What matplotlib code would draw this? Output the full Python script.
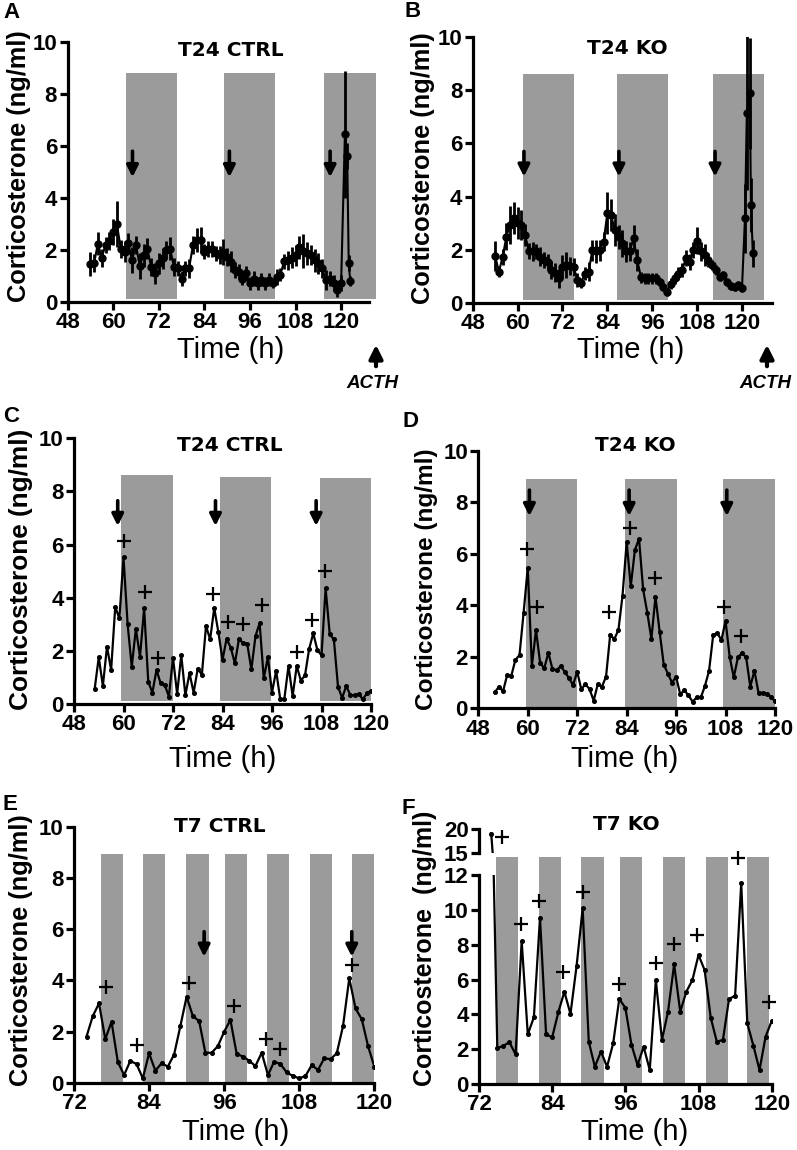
import matplotlib
matplotlib.use("Agg")
import matplotlib.pyplot as plt
from matplotlib.patches import FancyArrowPatch

# ---------------- data ----------------
# Panel A: T24 CTRL (mean +/- error)
a_time = list(range(54, 121)) + [121.0, 121.6, 122.0, 122.4]
a_cort = [1.46, 1.5, 2.25, 1.7, 2.2, 2.35, 2.7, 3.0, 2.05, 1.94,
          2.26, 1.6, 2.2, 1.4, 1.8, 2.05, 1.36, 1.1, 1.49, 1.68,
          2.0, 2.05, 1.36, 1.29, 0.9, 1.29, 1.29, 2.19, 2.38, 2.38,
          1.94, 2.05, 2.05, 1.87, 1.81, 1.94, 1.74, 1.55, 1.23, 1.17,
          0.9, 1.1, 0.72, 0.9, 0.72, 0.85, 0.72, 0.85, 0.72, 0.97,
          1.04, 1.56, 1.6, 1.7, 1.8, 2.1, 1.95, 1.87, 1.81, 1.6,
          1.49, 1.29, 0.85, 0.9, 0.72, 0.45, 0.72,
          6.45, 5.6, 1.5, 0.8]
a_err = [0.45, 0.35, 0.45, 0.35, 0.3, 0.35, 0.5, 0.9, 0.35, 0.4,
         0.4, 0.5, 0.35, 0.5, 0.45, 0.4, 0.35, 0.4, 0.4, 0.4,
         0.35, 0.45, 0.35, 0.3, 0.3, 0.3, 0.35, 0.35, 0.45, 0.5,
         0.3, 0.3, 0.3, 0.3, 0.35, 0.5, 0.35, 0.4, 0.3, 0.3,
         0.25, 0.3, 0.25, 0.3, 0.25, 0.25, 0.25, 0.25, 0.2, 0.3,
         0.25, 0.3, 0.35, 0.4, 0.4, 0.45, 0.65, 0.45, 0.4, 0.45,
         0.4, 0.35, 0.4, 0.3, 0.3, 0.25, 0.3,
         2.45, 0.5, 0.3, 0.2]
a_dark = [(63.4, 76.7), (89.2, 102.6), (115.6, 129.1)]
a_arrows = [65.1, 90.6, 117.1]

# Panel B: T24 KO (mean +/- error)
b_time = list(range(54, 121)) + [120.8, 121.3, 122.1, 122.4, 122.9]
b_cort = [1.76, 1.17, 1.71, 2.49, 2.93, 3.2, 3.0, 2.93, 2.55, 1.96,
          1.93, 1.93, 1.73, 1.61, 1.55, 1.23, 1.13, 0.92, 1.36, 1.42,
          1.39, 1.34, 0.86, 0.74, 1.1, 1.17, 1.98, 1.93, 1.98, 2.3,
          3.37, 3.3, 2.74, 2.49, 2.24, 1.93, 1.93, 2.43, 1.61, 0.95,
          0.92, 0.92, 0.92, 0.92, 0.79, 0.6, 0.41, 0.72, 0.92, 1.1,
          1.23, 1.67, 1.55, 1.98, 2.34, 1.93, 1.8, 1.61, 1.42, 1.23,
          0.98, 1.04, 0.79, 0.63, 0.6, 0.67, 0.54,
          3.18, 7.14, 7.89, 3.68, 1.86]
b_err = [0.55, 0.2, 0.3, 0.5, 0.7, 0.6, 0.6, 0.55, 0.4, 0.3,
         0.35, 0.3, 0.35, 0.3, 0.3, 0.35, 0.35, 0.35, 0.45, 0.5,
         0.35, 0.35, 0.25, 0.2, 0.25, 0.35, 0.4, 0.45, 0.4, 0.35,
         0.8, 0.6, 0.6, 0.45, 0.5, 0.4, 0.35, 0.5, 0.4, 0.2,
         0.2, 0.2, 0.2, 0.2, 0.15, 0.15, 0.15, 0.2, 0.2, 0.25,
         0.25, 0.3, 0.3, 0.3, 0.5, 0.35, 0.4, 0.25, 0.2, 0.2,
         0.15, 0.15, 0.15, 0.15, 0.15, 0.15, 0.15,
         1.3, 2.9, 2.1, 1.0, 0.5]
b_dark = [(61.5, 75.1), (86.7, 100.3), (112.3, 126.0)]
b_arrows = [61.7, 87.1, 112.8]

# Panel C: T24 CTRL individual
c_time = list(range(53, 121))
c_cort = [0.55, 1.76, 0.68, 2.16, 1.28, 3.66, 3.22, 5.52, 3.0, 1.4,
          2.83, 1.78, 3.6, 0.84, 0.43, 1.28, 0.78, 0.72, 0.28, 1.74,
          0.38, 1.84, 0.33, 1.16, 0.43, 1.33, 1.1, 2.94, 2.43, 3.61,
          2.7, 1.66, 2.46, 2.12, 1.53, 2.46, 2.28, 2.26, 1.3, 2.56,
          3.04, 0.97, 1.76, 0.43, 1.25, 0.18, 0.2, 1.43, 0.3, 1.43,
          0.88, 1.08, 2.07, 2.66, 2.03, 1.83, 4.35, 2.62, 2.43, 0.65,
          0.23, 0.68, 0.33, 0.33, 0.38, 0.18, 0.4, 0.5]
c_plus_t = [60.0, 65.3, 68.3, 81.8, 85.3, 88.9, 93.5, 102.0, 105.8, 108.8]
c_plus_v = [6.13, 4.23, 1.72, 4.13, 3.1, 3.01, 3.73, 1.97, 3.16, 5.0]
c_dark = [(59.4, 71.9, 8.62), (83.4, 95.7, 8.56), (107.6, 119.9, 8.49)]
c_arrows = [58.6, 82.3, 106.7]

# Panel D: T24 KO individual
d_time = list(range(52, 121))
d_cort = [0.62, 0.84, 0.66, 1.29, 1.26, 1.88, 2.07, 3.72, 5.47, 1.64,
          3.04, 1.77, 1.55, 2.16, 1.52, 1.48, 1.64, 1.42, 1.17, 0.91,
          1.42, 0.74, 0.94, 0.74, 0.3, 0.94, 0.84, 1.23, 2.85, 2.69,
          3.04, 4.38, 6.45, 4.75, 6.15, 6.59, 4.62, 3.72, 2.7, 4.34,
          2.98, 1.7, 1.35, 1.0, 1.22, 0.55, 0.7, 0.5, 0.26, 0.42,
          0.42, 0.87, 1.46, 2.85, 2.92, 2.65, 3.4, 2.0, 1.2, 1.98,
          2.15, 1.98, 0.84, 1.46, 0.6, 0.6, 0.57, 0.45, 0.27]
d_plus_t = [59.7, 62.2, 79.8, 84.8, 90.9, 107.7, 111.7]
d_plus_v = [6.18, 3.92, 3.73, 7.02, 5.05, 3.95, 2.82]
d_dark = [(59.6, 72.0), (83.7, 96.2), (107.5, 119.9)]
d_arrows = [60.4, 84.6, 108.3]

# Panel E: T7 CTRL individual
e_time = list(range(74, 121))
e_cort = [1.8, 2.6, 3.1, 1.7, 2.38, 0.82, 0.3, 0.85, 0.73, 0.17,
          1.15, 0.47, 0.76, 0.63, 1.1, 2.21, 3.36, 2.6, 2.41, 1.17,
          1.17, 1.43, 1.99, 2.45, 1.13, 1.02, 0.86, 0.65, 1.17, 0.3,
          0.82, 0.73, 0.4, 0.26, 0.17, 0.26, 0.69, 0.5, 0.95, 0.92,
          1.15, 2.21, 4.08, 2.9, 2.48, 1.43, 0.63]
e_plus_t = [77.1, 82.0, 90.4, 97.5, 102.7, 104.9, 116.4]
e_plus_v = [3.75, 1.47, 3.9, 3.0, 1.71, 1.32, 4.6]
e_dark = [(76.3, 79.8), (83.1, 86.6), (89.9, 93.5), (96.1, 99.6),
          (102.9, 106.4), (109.7, 113.3), (116.5, 119.9)]
e_arrows = [92.8, 116.4]

# Panel F: T7 KO individual (broken y axis)
f_time = list(range(74, 121))
f_cort = [19.1, 2.05, 2.2, 2.39, 1.7, 8.21, 2.85, 3.83, 9.55, 2.85,
          2.68, 4.11, 5.3, 4.02, 6.77, 10.08, 2.43, 0.99, 1.86, 0.99,
          2.33, 4.88, 4.38, 2.26, 1.09, 2.14, 0.8, 5.97, 2.53, 4.15,
          6.87, 4.15, 5.3, 5.97, 7.41, 6.54, 3.81, 2.43, 2.53, 4.88,
          5.07, 11.52, 3.48, 2.2, 0.8, 2.72, 3.62]
f_plus_t = [75.7, 78.9, 81.9, 85.7, 89.0, 95.0, 101.0, 104.0, 107.7, 114.5, 119.6]
f_plus_v = [18.3, 9.17, 10.5, 6.45, 11.04, 5.74, 6.93, 8.02, 8.55, 12.96, 4.73]
f_dark = [(74.8, 78.4), (81.8, 85.4), (88.8, 92.5), (95.1, 98.7),
          (102.1, 105.8), (109.2, 112.8), (116.0, 119.6)]

# ---------------- layout helpers ----------------
W, H = 797, 1150
fig = plt.figure(figsize=(W / 100, H / 100), dpi=100)

def box(l, t, r, b):
    return [l / W, 1 - b / H, (r - l) / W, (b - t) / H]

def fxy(x, y):
    return (x / W, 1 - y / H)

GRAY = '#9b9b9b'
TICKFONT = ['Liberation Sans Narrow', 'Liberation Sans', 'DejaVu Sans']

def style_axes(ax, xticks, yticks):
    for s in ['top', 'right']:
        ax.spines[s].set_visible(False)
    for s in ['left', 'bottom']:
        ax.spines[s].set_linewidth(2.3)
    ax.set_xticks(xticks)
    ax.set_yticks(yticks)
    ax.tick_params(axis='both', length=6, width=2.3, pad=1.5)
    for lab in ax.get_xticklabels() + ax.get_yticklabels():
        lab.set_family(TICKFONT)
        lab.set_fontweight('bold')
        lab.set_fontsize(16)
    ax.patch.set_alpha(0)

def down_arrow(ax, x, top, tip):
    ax.annotate('', xy=(x, tip), xytext=(x, top),
                arrowprops=dict(arrowstyle='-|>', color='black', lw=2.6,
                                mutation_scale=17, shrinkA=0, shrinkB=0),
                zorder=6)

def title(x, y, s):
    fig.text(*fxy(x, y), s, ha='center', va='center', fontsize=14.5,
             fontweight='bold', family='DejaVu Sans')

def xlabel(x, y, s='Time (h)'):
    fig.text(*fxy(x, y), s, ha='center', va='baseline', fontsize=21,
             family=['Liberation Sans', 'DejaVu Sans'])

def ylabel(x, y, size, s='Corticosterone (ng/ml)'):
    fig.text(*fxy(x, y), s, ha='center', va='center', rotation=90,
             fontsize=size, fontweight='bold',
             family=['Liberation Sans', 'DejaVu Sans'])

def letter(x, y, s):
    fig.text(*fxy(x, y), s, ha='center', va='center', fontsize=16,
             fontweight='bold', family=['Liberation Sans', 'DejaVu Sans'])

def plus(ax, ts, vs):
    ax.plot(ts, vs, linestyle='none', marker='+', ms=10, mew=1.6,
            color='black', clip_on=False, zorder=7)

# ---------------- Panel A ----------------
axA = fig.add_axes(box(67.5, 42, 375.7, 302))
axA.set_xlim(48, 129.1)
axA.set_ylim(0, 10)
for x0, x1 in a_dark:
    axA.fill_between([x0, x1], 0.1, 8.8, color=GRAY, lw=0, zorder=1)
axA.errorbar(a_time, a_cort, yerr=a_err, color='black', lw=1.5,
             elinewidth=2.0, marker='o', ms=5, capsize=0, zorder=4)
for x in a_arrows:
    down_arrow(axA, x, 5.8, 4.8)
style_axes(axA, [48, 60, 72, 84, 96, 108, 120], [0, 2, 4, 6, 8, 10])
axA.spines['bottom'].set_bounds(48, 127.3)

# ---------------- Panel B ----------------
axB = fig.add_axes(box(472.7, 37.3, 771.9, 302.7))
axB.set_xlim(48, 128)
axB.set_ylim(0, 10)
for x0, x1 in b_dark:
    axB.fill_between([x0, x1], 0.1, 8.62, color=GRAY, lw=0, zorder=1)
axB.errorbar(b_time, b_cort, yerr=b_err, color='black', lw=1.5,
             elinewidth=2.0, marker='o', ms=5, capsize=0, zorder=4)
for x in b_arrows:
    down_arrow(axB, x, 5.7, 4.75)
style_axes(axB, [48, 60, 72, 84, 96, 108, 120], [0, 2, 4, 6, 8, 10])

# ACTH arrows
for x, tx in [(376, 372.5), (767, 765.5)]:
    fig.add_artist(FancyArrowPatch(posA=fxy(x, 369), posB=fxy(x, 342),
                                   transform=fig.transFigure, arrowstyle='-|>',
                                   mutation_scale=20, lw=3.0, color='black'))
    fig.text(*fxy(tx, 383), 'ACTH', ha='center', va='center', fontsize=13.5,
             fontweight='bold', fontstyle='italic',
             family=['Liberation Sans', 'DejaVu Sans'])

# ---------------- Panel C ----------------
axC = fig.add_axes(box(74, 438.3, 371, 704))
axC.set_xlim(48, 120)
axC.set_ylim(0, 10)
for x0, x1, top in c_dark:
    axC.fill_between([x0, x1], 0.12, top, color=GRAY, lw=0, zorder=1)
axC.plot(c_time, c_cort, color='black', lw=1.6, marker='o', ms=2.6, zorder=4)
plus(axC, c_plus_t, c_plus_v)
for x in c_arrows:
    down_arrow(axC, x, 7.65, 6.7)
style_axes(axC, [48, 60, 72, 84, 96, 108, 120], [0, 2, 4, 6, 8, 10])

# ---------------- Panel D ----------------
axD = fig.add_axes(box(478.3, 451, 775, 708.3))
axD.set_xlim(48, 120)
axD.set_ylim(0, 10)
for x0, x1 in d_dark:
    axD.fill_between([x0, x1], 0, 8.91, color=GRAY, lw=0, zorder=1)
axD.plot(d_time, d_cort, color='black', lw=1.6, marker='o', ms=2.6, zorder=4)
plus(axD, d_plus_t, d_plus_v)
for x in d_arrows:
    down_arrow(axD, x, 8.48, 7.47)
style_axes(axD, [48, 60, 72, 84, 96, 108, 120], [0, 2, 4, 6, 8, 10])

# ---------------- Panel E ----------------
axE = fig.add_axes(box(74, 826.7, 374.3, 1082.7))
axE.set_xlim(72, 120)
axE.set_ylim(0, 10)
for x0, x1 in e_dark:
    axE.fill_between([x0, x1], 0, 8.93, color=GRAY, lw=0, zorder=1)
axE.plot(e_time, e_cort, color='black', lw=1.6, marker='o', ms=2.6, zorder=4)
plus(axE, e_plus_t, e_plus_v)
for x in e_arrows:
    down_arrow(axE, x, 5.9, 4.92)
style_axes(axE, [72, 84, 96, 108, 120], [0, 2, 4, 6, 8, 10])

# ---------------- Panel F (broken axis) ----------------
axF = fig.add_axes(box(479, 875, 771.7, 1084))
axF.set_xlim(72, 120)
axF.set_ylim(0, 12)
for x0, x1 in f_dark:
    axF.fill_between([x0, x1], 0, 13.05, color=GRAY, lw=0, zorder=1,
                     clip_on=False)
axF.plot(f_time, f_cort, color='black', lw=1.6, marker='o', ms=2.6, zorder=4)
plus(axF, f_plus_t[1:], f_plus_v[1:])
style_axes(axF, [72, 84, 96, 108, 120], [0, 2, 4, 6, 8, 10, 12])

axF2 = fig.add_axes(box(479, 829.3, 771.7, 852.7))
axF2.set_xlim(72, 120)
axF2.set_ylim(15, 20)
axF2.plot(f_time, f_cort, color='black', lw=1.6, marker='o', ms=2.6, zorder=4)
plus(axF2, f_plus_t[:1], f_plus_v[:1])
style_axes(axF2, [], [15, 20])
axF2.spines['bottom'].set_visible(False)
axF2.tick_params(axis='x', length=0)

# ---------------- texts ----------------
title(231, 50, 'T24 CTRL')
title(627, 49, 'T24 KO')
title(230, 445.5, 'T24 CTRL')
title(635, 445.5, 'T24 KO')
title(220, 826, 'T7 CTRL')
title(626, 825, 'T7 KO')

xlabel(231, 358)
xlabel(631, 358)
xlabel(223, 767)
xlabel(625, 767)
xlabel(236, 1140)
xlabel(635, 1140)

ylabel(19, 166, 18.3)
ylabel(423, 168, 18.3)
ylabel(21, 569, 18.9)
ylabel(426, 579, 17.6)
ylabel(21, 950, 18.3)
ylabel(425, 948, 18.0, 'Corticosterone  (ng/ml)')

letter(11.5, 12.5, 'A')
letter(412.5, 11.5, 'B')
letter(11, 416, 'C')
letter(411, 421.5, 'D')
letter(9.5, 805, 'E')
letter(408.5, 808.5, 'F')

fig.savefig('out.png', dpi=100)
